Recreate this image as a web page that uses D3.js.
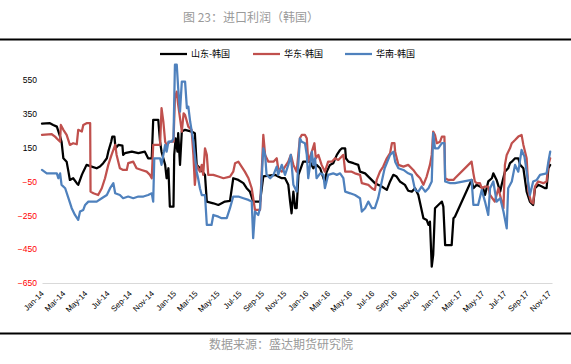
<!DOCTYPE html>
<html>
<head>
<meta charset="utf-8">
<script src="https://cdn.jsdelivr.net/npm/d3@7"></script>
<style>
  html, body { margin: 0; padding: 0; background: #ffffff; }
  svg { display: block; }
</style>
</head>
<body>
<svg id="chart" width="571" height="364"></svg>
<script>
// ---------------- DATA ----------------
const chartTitle = "图 23：进口利润（韩国）";
const sourceNote = "数据来源：盛达期货研究院";
const seriesNames = ["山东-韩国", "华东-韩国", "华南-韩国"];
const yTickValues = [-650, -450, -250, -50, 150, 350, 550];
const xTickLabels = ["Jan-14","Mar-14","May-14","Jul-14","Sep-14","Nov-14",
  "Jan-15","Mar-15","May-15","Jul-15","Sep-15","Nov-15",
  "Jan-16","Mar-16","May-16","Jul-16","Sep-16","Nov-16",
  "Jan-17","Mar-17","May-17","Jul-17","Sep-17","Nov-17"];

// 山东-韩国
const shandongDates = ["2014-01-01","2014-01-23","2014-02-01","2014-02-11","2014-02-20","2014-02-24","2014-03-01","2014-03-10","2014-03-15","2014-03-19",
  "2014-03-28","2014-04-07","2014-04-11","2014-04-21","2014-04-25","2014-05-04","2014-05-18","2014-06-01","2014-06-10","2014-06-19",
  "2014-06-29","2014-07-03","2014-07-11","2014-07-14","2014-07-20","2014-07-23","2014-07-31","2014-08-11","2014-08-13","2014-08-18",
  "2014-09-06","2014-09-24","2014-10-12","2014-10-21","2014-10-31","2014-11-04","2014-11-18","2014-11-23","2014-11-27","2014-12-02",
  "2014-12-07","2014-12-11","2014-12-16","2014-12-20","2014-12-30","2015-01-01","2015-01-05","2015-01-10","2015-01-12","2015-01-17",
  "2015-01-22","2015-01-31","2015-02-18","2015-02-27","2015-03-04","2015-03-13","2015-03-27","2015-04-01","2015-04-19","2015-05-03",
  "2015-05-21","2015-06-04","2015-06-13","2015-06-27","2015-07-11","2015-07-20","2015-07-29","2015-08-07","2015-08-26","2015-09-04",
  "2015-10-06","2015-10-15","2015-10-25","2015-11-03","2015-11-12","2015-11-17","2015-11-21","2015-11-26","2015-12-01","2015-12-05",
  "2015-12-10","2015-12-23","2016-01-11","2016-01-20","2016-01-29","2016-02-08","2016-02-17","2016-02-21","2016-02-26","2016-03-06",
  "2016-03-15","2016-03-25","2016-04-03","2016-04-08","2016-04-17","2016-04-19","2016-04-26","2016-05-10","2016-05-23","2016-05-28",
  "2016-06-11","2016-07-08","2016-07-27","2016-08-10","2016-08-19","2016-08-28","2016-09-06","2016-09-15","2016-09-29","2016-10-08",
  "2016-10-18","2016-10-27","2016-11-05","2016-11-10","2016-11-19","2016-11-28","2016-12-03","2016-12-07","2016-12-12","2016-12-16",
  "2016-12-21","2016-12-30","2017-01-09","2017-01-13","2017-01-18","2017-02-05","2017-02-10","2017-02-14","2017-04-01","2017-04-06",
  "2017-04-15","2017-04-24","2017-05-03","2017-05-08","2017-05-17","2017-05-27","2017-05-31","2017-06-09","2017-06-19","2017-06-23",
  "2017-07-02","2017-07-11","2017-07-16","2017-07-21","2017-07-30","2017-08-08","2017-08-13","2017-08-22","2017-08-31","2017-09-09",
  "2017-09-18","2017-09-23","2017-10-02","2017-10-12","2017-10-21","2017-10-25","2017-10-30","2017-11-04"];
const shandongValues = [292,294,284,274,215,185,87,67,8,-41,
  -31,-60,-70,-11,8,48,38,28,38,58,
  87,126,185,215,215,146,166,162,107,117,
  126,117,126,87,87,314,314,185,126,87,
  48,-31,28,-199,-199,107,205,126,235,48,
  245,255,245,235,48,28,-11,-169,-179,-189,
  -169,-165,-31,-41,-60,-90,-110,-169,-169,-20,
  -11,-21,-31,-31,-70,-169,-238,-110,-208,-208,
  -11,67,67,28,48,28,-31,-50,8,48,
  58,107,136,146,146,87,67,58,48,8,
  -2,-60,-80,-100,-50,-11,-21,-50,-70,-105,
  -110,-90,-130,-179,-267,-277,-307,-287,-553,-484,
  -208,-189,-169,-199,-426,-426,-267,-258,-41,-90,
  -70,-80,-90,-130,-50,-31,-2,-41,-110,-70,
  8,28,58,67,87,87,48,28,-110,-169,
  -189,-90,-70,-80,-90,-90,28,48];

// 华东-韩国
const huadongDates = ["2014-01-01","2014-01-28","2014-02-06","2014-02-15","2014-02-20","2014-02-22","2014-03-01","2014-03-10","2014-03-19","2014-03-28",
  "2014-04-07","2014-04-11","2014-04-21","2014-04-25","2014-05-04","2014-05-14","2014-05-15","2014-05-23","2014-06-05","2014-06-15",
  "2014-06-24","2014-07-03","2014-07-12","2014-07-22","2014-07-26","2014-08-04","2014-08-13","2014-08-23","2014-08-27","2014-09-10",
  "2014-09-19","2014-10-03","2014-10-17","2014-10-26","2014-10-31","2014-11-04","2014-11-23","2014-11-27","2014-12-02","2014-12-07",
  "2014-12-11","2014-12-20","2014-12-30","2015-01-03","2015-01-08","2015-01-12","2015-01-17","2015-01-22","2015-01-27","2015-01-31",
  "2015-02-05","2015-02-09","2015-02-18","2015-02-23","2015-02-27","2015-03-04","2015-03-13","2015-03-18","2015-03-22","2015-03-27",
  "2015-04-01","2015-04-05","2015-04-19","2015-05-03","2015-05-17","2015-06-04","2015-06-13","2015-06-18","2015-06-27","2015-07-06",
  "2015-07-15","2015-07-25","2015-08-03","2015-08-12","2015-08-26","2015-09-04","2015-09-09","2015-09-18","2015-10-02","2015-10-11",
  "2015-10-15","2015-10-25","2015-11-03","2015-11-12","2015-11-19","2015-11-26","2015-12-05","2015-12-14","2015-12-19","2015-12-28",
  "2016-01-02","2016-01-06","2016-01-16","2016-01-23","2016-01-27","2016-02-03","2016-02-12","2016-02-21","2016-03-01","2016-03-11",
  "2016-03-20","2016-03-29","2016-04-12","2016-04-17","2016-05-05","2016-05-14","2016-05-28","2016-06-02","2016-06-20","2016-06-30",
  "2016-07-08","2016-07-13","2016-07-22","2016-07-31","2016-08-10","2016-08-19","2016-08-24","2016-08-31","2016-09-02","2016-09-11",
  "2016-09-25","2016-10-08","2016-10-22","2016-11-01","2016-11-10","2016-11-19","2016-11-28","2016-12-07","2016-12-12","2016-12-16",
  "2016-12-21","2016-12-26","2017-01-04","2017-01-09","2017-01-16","2017-01-18","2017-01-27","2017-02-10","2017-02-14","2017-04-01",
  "2017-04-06","2017-04-10","2017-04-15","2017-04-24","2017-04-29","2017-05-08","2017-05-17","2017-05-22","2017-06-04","2017-06-14",
  "2017-06-23","2017-06-28","2017-07-02","2017-07-07","2017-07-16","2017-07-21","2017-07-30","2017-08-08","2017-08-17","2017-08-22",
  "2017-08-31","2017-09-05","2017-09-12","2017-09-18","2017-09-23","2017-10-02","2017-10-16","2017-10-25","2017-10-30","2017-11-04"];
const huadongValues = [225,229,215,195,185,284,255,225,166,176,
  170,255,245,284,294,294,-110,-120,-130,-90,
  -31,48,107,166,107,28,18,18,58,67,
  28,18,8,-11,-31,166,166,383,304,185,
  166,185,185,442,481,402,324,245,353,343,
  304,274,255,107,-70,48,8,48,-11,146,
  107,-11,-11,-21,-31,-21,8,58,67,38,
  8,-31,-90,-218,-218,225,107,67,67,87,
  28,8,38,67,107,48,8,205,225,225,
  205,67,126,176,87,107,48,8,67,67,
  87,77,107,8,8,-2,-11,-60,-70,-90,
  -100,-41,8,38,87,117,176,176,126,48,
  38,48,18,-11,-31,-70,-21,48,107,245,
  225,176,185,215,215,-31,-41,-41,-31,67,
  -2,-50,-60,-60,-90,-80,-80,-130,-169,-90,
  -169,-208,48,107,146,176,195,215,225,166,
  87,-110,-169,-179,-80,-50,-60,-50,48,87];

// 华南-韩国
const huananDates = ["2014-01-01","2014-01-14","2014-02-11","2014-02-15","2014-02-20","2014-02-24","2014-03-06","2014-03-15","2014-03-24","2014-04-02",
  "2014-04-11","2014-04-16","2014-04-25","2014-04-30","2014-05-09","2014-06-01","2014-06-15","2014-06-29","2014-07-08","2014-07-17",
  "2014-07-22","2014-08-04","2014-08-13","2014-08-27","2014-09-10","2014-09-24","2014-10-08","2014-10-21","2014-10-31","2014-11-04",
  "2014-11-07","2014-11-23","2014-11-27","2014-12-02","2014-12-07","2014-12-11","2014-12-16","2014-12-25","2014-12-30","2015-01-03",
  "2015-01-08","2015-01-12","2015-01-17","2015-01-22","2015-01-31","2015-02-05","2015-02-09","2015-02-14","2015-02-23","2015-02-27",
  "2015-03-04","2015-03-08","2015-03-13","2015-03-18","2015-03-27","2015-04-01","2015-04-14","2015-04-19","2015-05-03","2015-05-12",
  "2015-05-26","2015-06-04","2015-06-13","2015-06-27","2015-07-11","2015-07-25","2015-08-03","2015-08-07","2015-08-12","2015-08-21",
  "2015-08-26","2015-09-04","2015-09-09","2015-09-13","2015-09-23","2015-10-02","2015-10-11","2015-10-15","2015-10-25","2015-11-03",
  "2015-11-12","2015-11-19","2015-11-26","2015-12-05","2015-12-14","2015-12-19","2015-12-28","2016-01-02","2016-01-06","2016-01-16",
  "2016-01-20","2016-01-25","2016-01-29","2016-02-08","2016-02-17","2016-02-21","2016-03-01","2016-03-15","2016-03-25","2016-04-03",
  "2016-04-12","2016-04-17","2016-05-01","2016-05-14","2016-05-28","2016-06-02","2016-06-11","2016-06-20","2016-06-30","2016-07-08",
  "2016-07-17","2016-07-27","2016-08-04","2016-08-19","2016-08-28","2016-09-02","2016-09-11","2016-09-25","2016-10-08","2016-10-18",
  "2016-10-27","2016-11-05","2016-11-14","2016-11-24","2016-12-03","2016-12-12","2016-12-16","2016-12-21","2016-12-30","2017-01-09",
  "2017-01-16","2017-01-18","2017-02-01","2017-02-14","2017-04-01","2017-04-06","2017-04-19","2017-04-29","2017-05-08","2017-05-17",
  "2017-05-22","2017-05-31","2017-06-09","2017-06-19","2017-06-28","2017-07-07","2017-07-11","2017-07-21","2017-07-30","2017-08-08",
  "2017-08-17","2017-08-25","2017-08-31","2017-09-09","2017-09-18","2017-09-28","2017-10-07","2017-10-25","2017-10-30","2017-11-04"];
const huananValues = [18,-2,-2,-31,-2,-70,-90,-149,-208,-248,
  -277,-228,-218,-189,-169,-169,-149,-130,-90,-60,
  -120,-130,-149,-139,-149,-139,-139,-130,-120,-169,
  87,87,48,107,166,126,185,185,205,640,
  640,501,363,540,540,383,392,304,185,107,
  8,-31,-90,-130,-130,-307,-307,-248,-258,-267,
  -267,-208,-139,-139,-149,-159,-169,-385,-228,-248,
  -208,146,107,-11,-31,-11,38,-11,48,-11,
  48,107,-70,-110,205,185,176,107,-31,126,
  48,87,-31,-2,-11,-90,-11,-2,-11,-2,
  -31,-110,-120,-130,-149,-228,-208,-169,-208,-208,
  -149,-50,28,107,126,67,28,18,-2,-11,
  -100,-110,-80,-110,-90,-50,235,146,146,176,
  176,-50,-60,-60,-41,-189,-189,-100,-169,-248,
  -90,-50,-169,-149,-228,-327,-90,-50,48,8,
  136,97,8,-130,-50,-41,-11,-2,67,126];

// ---------------- STYLE / LAYOUT ----------------
const W = 571, H = 364;
const plot = { left: 42, right: 552, top: 63, bottom: 283 };
const lineColors = ["#000000", "#C0504D", "#4F81BD"];
const parseDate = d3.timeParse("%Y-%m-%d");
const parseTick = d3.timeParse("%b-%y");

const svg = d3.select("#chart");
svg.append("rect").attr("width", W).attr("height", H).attr("fill", "#ffffff");

const x = d3.scaleTime()
  .domain([parseDate("2014-01-01"), parseDate("2017-11-09")])
  .range([plot.left, plot.right]);
const y = d3.scaleLinear()
  .domain([-650, 650])
  .range([plot.bottom, plot.top]);

// title + rules
svg.append("text")
  .attr("x", 251).attr("y", 21.5)
  .attr("text-anchor", "middle")
  .attr("font-family", "'Noto Sans CJK SC', 'Noto Sans', sans-serif")
  .attr("font-size", 12)
  .attr("fill", "#9a9a9a")
  .text(chartTitle);
svg.append("line").attr("x1", 0).attr("x2", W).attr("y1", 39.5).attr("y2", 39.5)
  .attr("stroke", "#000").attr("stroke-width", 2);
svg.append("line").attr("x1", 0).attr("x2", W).attr("y1", 333.5).attr("y2", 333.5)
  .attr("stroke", "#000").attr("stroke-width", 2);
svg.append("text")
  .attr("x", 281).attr("y", 349)
  .attr("text-anchor", "middle")
  .attr("font-family", "'Noto Sans CJK SC', 'Noto Sans', sans-serif")
  .attr("font-size", 12)
  .attr("fill", "#9a9a9a")
  .text(sourceNote);

// y axis (labels only)
const yAxis = svg.append("g")
  .attr("transform", `translate(${plot.left - 5},0)`)
  .call(d3.axisLeft(y).tickValues(yTickValues).tickSize(0).tickPadding(0).tickFormat(d3.format("d")));
yAxis.select(".domain").remove();
yAxis.selectAll("text")
  .attr("font-family", "'Liberation Sans', Arial, sans-serif")
  .attr("font-size", 8.5)
  .attr("fill", d => d < 0 ? "#FF0000" : "#000000");

// x axis
const xTickDates = xTickLabels.map(parseTick);
const xAxis = svg.append("g")
  .attr("transform", `translate(0,${plot.bottom})`)
  .call(d3.axisBottom(x).tickValues(xTickDates).tickSize(0).tickFormat(d3.timeFormat("%b-%y")));
xAxis.select(".domain").attr("stroke", "#d9d9d9").attr("stroke-width", 1);
xAxis.selectAll("text")
  .attr("x", 0).attr("y", 0).attr("dy", "0.35em")
  .attr("transform", "translate(0,9) rotate(-45)")
  .style("text-anchor", "end")
  .attr("font-family", "'Liberation Sans', Arial, sans-serif")
  .attr("font-size", 8)
  .attr("fill", "#000");

// series
const series = [
  { name: seriesNames[0], dates: shandongDates, values: shandongValues },
  { name: seriesNames[1], dates: huadongDates, values: huadongValues },
  { name: seriesNames[2], dates: huananDates, values: huananValues }
];
const line = d3.line().x(d => x(d.date)).y(d => y(d.value));
series.forEach((s, i) => {
  const pts = s.dates.map((dt, k) => ({ date: parseDate(dt), value: s.values[k] }))
    .filter(p => p.value !== undefined);
  svg.append("path")
    .datum(pts)
    .attr("d", line)
    .attr("fill", "none")
    .attr("stroke", lineColors[i])
    .attr("stroke-width", 2.25)
    .attr("stroke-linejoin", "round")
    .attr("stroke-linecap", "round");
});

// legend
const legendX = [160, 253, 345];
const legend = svg.append("g");
series.forEach((s, i) => {
  const g = legend.append("g").attr("transform", `translate(${legendX[i]},54)`);
  g.append("line").attr("x1", 0).attr("x2", 27).attr("y1", 0).attr("y2", 0)
    .attr("stroke", lineColors[i]).attr("stroke-width", 2.25);
  g.append("text").attr("x", 31).attr("y", 0).attr("dy", "0.35em")
    .attr("font-family", "'Noto Sans CJK SC', sans-serif")
    .attr("font-size", 9)
    .attr("fill", "#000")
    .text(s.name);
});
</script>
</body>
</html>
